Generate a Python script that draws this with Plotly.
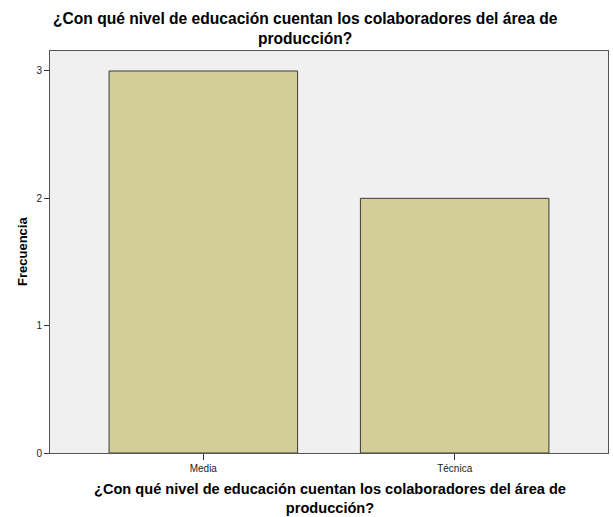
import plotly.graph_objects as go

categories = ["Media", "Técnica"]
frecuencia = [3, 2]
y_ticks = [0, 1, 2, 3]

title_line1 = "¿Con qué nivel de educación cuentan los colaboradores del área de"
title_line2 = "producción?"
y_title = "Frecuencia"

fig = go.Figure()
fig.add_trace(go.Bar(
    x=categories, y=frecuencia, width=0.75,
    marker=dict(color="#D3CE97", line=dict(color="#3C3C3C", width=1)),
))

font_family = "Liberation Sans, Arial, sans-serif"
anns = [
    # top title
    dict(text="<b>" + title_line1 + "<br>" + title_line2 + "</b>",
         x=0, y=1, xshift=255, yshift=23, font=dict(size=15.6)),
    # x axis title
    dict(text="<b>" + title_line1 + "<br>" + title_line2 + "</b>",
         x=0, y=0, xshift=280, yshift=-45, font=dict(size=14.6)),
    # y axis title
    dict(text="<b>" + y_title + "</b>", x=0, y=0.5, xshift=-28, textangle=-90,
         font=dict(size=13)),
]
for a in anns:
    a.update(xref="paper", yref="paper", xanchor="center", yanchor="middle",
             align="center", showarrow=False)
    a["font"].update(family=font_family, color="black")

fig.update_layout(
    width=613, height=517,
    margin=dict(l=50, r=5, t=51, b=64),
    paper_bgcolor="white", plot_bgcolor="#F0F0F0",
    font=dict(family=font_family, color="black"),
    showlegend=False,
    annotations=anns,
)
fig.update_xaxes(
    range=[-0.61, 1.61], showgrid=False, zeroline=False,
    showline=True, linecolor="#555555", linewidth=1, mirror=True,
    ticks="outside", ticklen=6, tickcolor="#333333",
    tickfont=dict(size=10, color="#222222"),
)
fig.update_yaxes(
    range=[0, 3.157], tickvals=y_ticks, showgrid=False, zeroline=False,
    showline=True, linecolor="#555555", linewidth=1, mirror=True,
    ticks="outside", ticklen=5, tickcolor="#333333",
    tickfont=dict(size=10, color="#222222"),
)

fig.write_html("out.html", config={"displayModeBar": False},
               post_script="document.body.style.margin='0';")
